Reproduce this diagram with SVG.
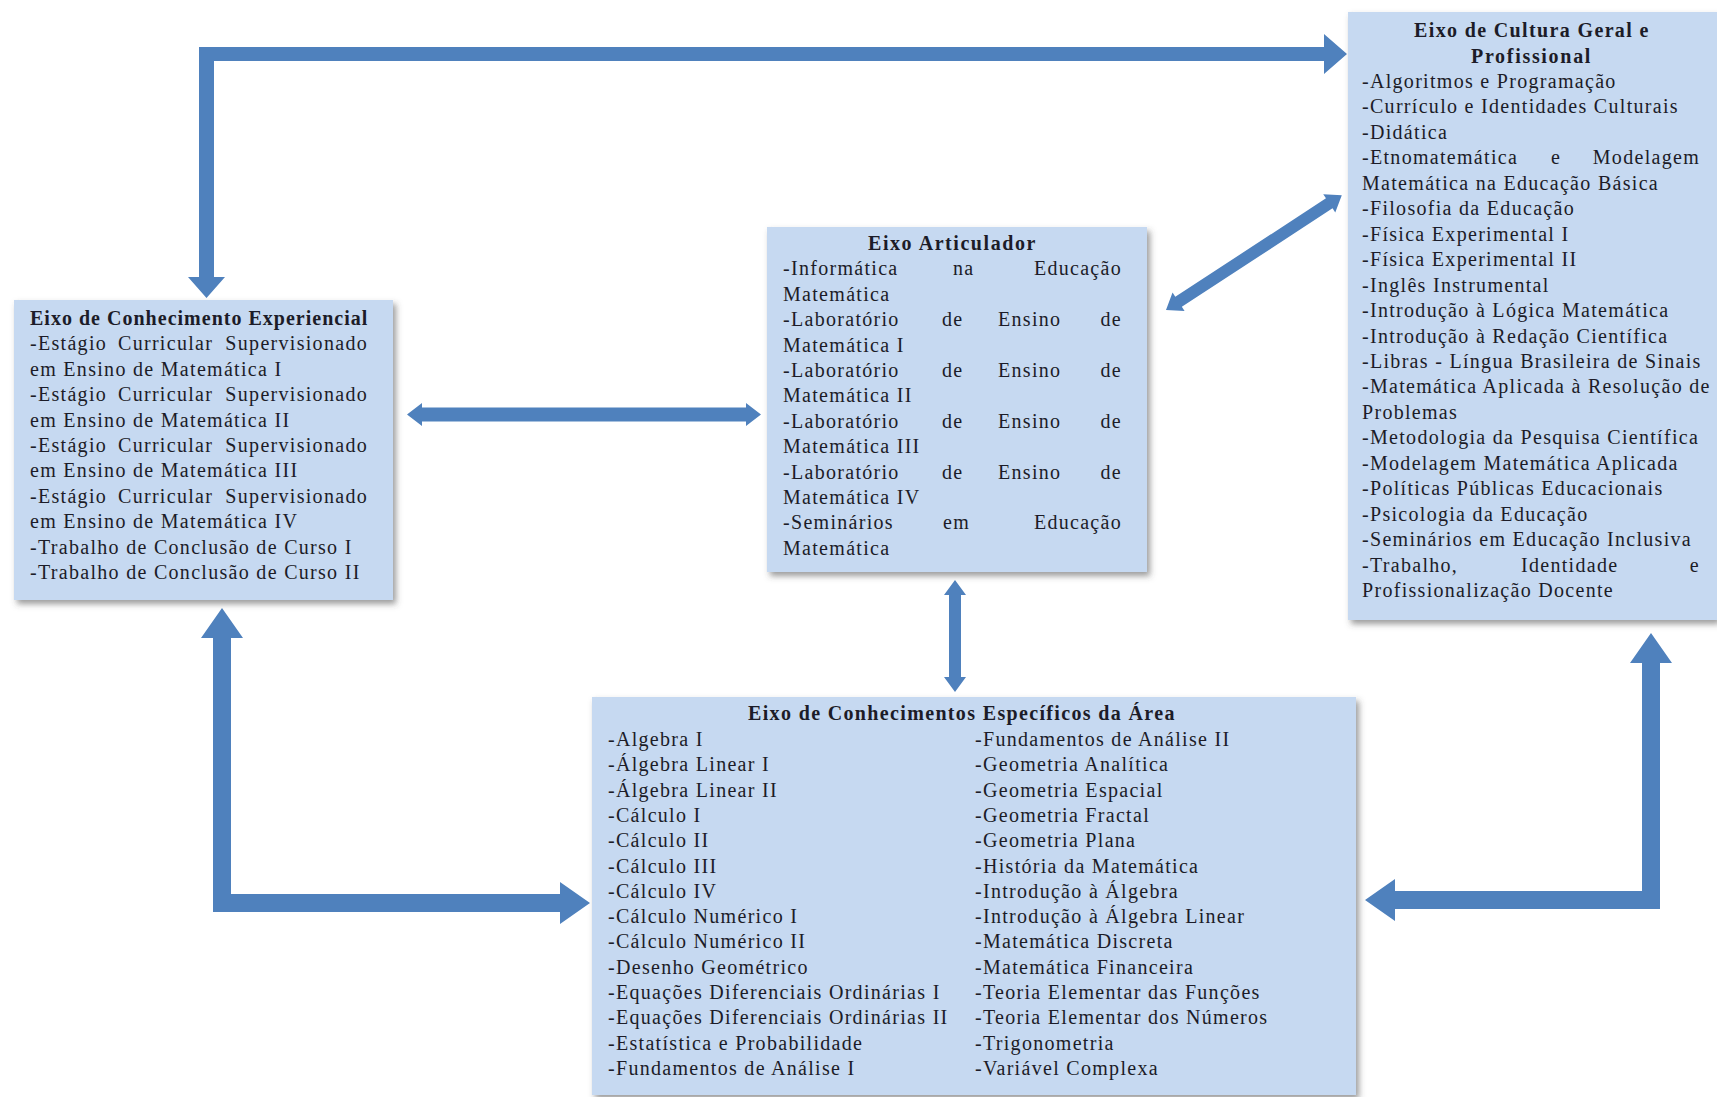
<svg xmlns="http://www.w3.org/2000/svg" width="1717" height="1097" viewBox="0 0 1717 1097">
<defs>
<style>
.box{fill:#c6d9f1;filter:url(#sh)}
.t{font-family:"Liberation Serif","Times New Roman",serif;font-size:20px;fill:#1c1c28;letter-spacing:1.3px}
.b{font-weight:bold;letter-spacing:0.6px}
.e{text-anchor:end}
.arr{fill:#4f81bd}
</style>
<filter id="sh" x="-5%" y="-5%" width="115%" height="115%">
<feDropShadow dx="3" dy="4" stdDeviation="3" flood-color="#4a4a4a" flood-opacity="0.55"/>
</filter>
</defs>
<rect width="1717" height="1097" fill="#ffffff"/>

<g id="connectors">
<path class="arr" d="M199,47 L1324,47 L1324,34 L1347,54 L1324,74 L1324,61 L214,61 L214,277 L225,277 L206.5,298 L188,277 L199,277 Z"/>
<path class="arr" d="M407,414.5 L422,403 L422,407.5 L746,407.5 L746,403 L761,414.5 L746,426 L746,421.5 L422,421.5 L422,426 Z"/>
<path class="arr" transform="translate(1166,310) rotate(-33.16)" d="M0,0 L15,-11 L15,-6 L195,-6 L195,-11 L210,0 L195,11 L195,6 L15,6 L15,11 Z"/>
<path class="arr" d="M955,580 L966,595 L961,595 L961,677 L966,677 L955,692 L944,677 L949,677 L949,595 L944,595 Z"/>
<path class="arr" d="M222,608 L243,638 L231,638 L231,894 L560,894 L560,882 L590,903 L560,924 L560,912 L213,912 L213,638 L201,638 Z"/>
<path class="arr" d="M1651,633 L1672,663 L1660,663 L1660,909 L1395,909 L1395,921 L1365,900 L1395,879 L1395,891 L1642,891 L1642,663 L1630,663 Z"/>
</g>

<g id="node-experiencial">
<rect class="box" x="14" y="300" width="379" height="300"/>
<text class="t b" x="30" y="325" textLength="338" lengthAdjust="spacing">Eixo de Conhecimento Experiencial</text>
<text class="t" y="350.4"><tspan x="30">-Estágio</tspan><tspan x="118">Curricular</tspan></text>
<text class="t e" x="368" y="350.4">Supervisionado</text>
<text class="t" x="30" y="375.8">em Ensino de Matemática I</text>
<text class="t" y="401.2"><tspan x="30">-Estágio</tspan><tspan x="118">Curricular</tspan></text>
<text class="t e" x="368" y="401.2">Supervisionado</text>
<text class="t" x="30" y="426.6">em Ensino de Matemática II</text>
<text class="t" y="452"><tspan x="30">-Estágio</tspan><tspan x="118">Curricular</tspan></text>
<text class="t e" x="368" y="452">Supervisionado</text>
<text class="t" x="30" y="477.4">em Ensino de Matemática III</text>
<text class="t" y="502.8"><tspan x="30">-Estágio</tspan><tspan x="118">Curricular</tspan></text>
<text class="t e" x="368" y="502.8">Supervisionado</text>
<text class="t" x="30" y="528.2">em Ensino de Matemática IV</text>
<text class="t" x="30" y="553.6">-Trabalho de Conclusão de Curso I</text>
<text class="t" x="30" y="579">-Trabalho de Conclusão de Curso II</text>
</g>

<g id="node-articulador">
<rect class="box" x="767" y="227" width="380" height="345"/>
<text class="t b" x="868" y="250" textLength="168" lengthAdjust="spacing">Eixo Articulador</text>
<text class="t" y="275.4"><tspan x="783">-Informática</tspan><tspan x="953">na</tspan></text>
<text class="t e" x="1122" y="275.4">Educação</text>
<text class="t" x="783" y="300.8">Matemática</text>
<text class="t" y="326.2"><tspan x="783">-Laboratório</tspan><tspan x="942">de</tspan><tspan x="998">Ensino</tspan></text>
<text class="t e" x="1122" y="326.2">de</text>
<text class="t" x="783" y="351.6">Matemática I</text>
<text class="t" y="377"><tspan x="783">-Laboratório</tspan><tspan x="942">de</tspan><tspan x="998">Ensino</tspan></text>
<text class="t e" x="1122" y="377">de</text>
<text class="t" x="783" y="402.4">Matemática II</text>
<text class="t" y="427.8"><tspan x="783">-Laboratório</tspan><tspan x="942">de</tspan><tspan x="998">Ensino</tspan></text>
<text class="t e" x="1122" y="427.8">de</text>
<text class="t" x="783" y="453.2">Matemática III</text>
<text class="t" y="478.6"><tspan x="783">-Laboratório</tspan><tspan x="942">de</tspan><tspan x="998">Ensino</tspan></text>
<text class="t e" x="1122" y="478.6">de</text>
<text class="t" x="783" y="504">Matemática IV</text>
<text class="t" y="529.4"><tspan x="783">-Seminários</tspan><tspan x="943">em</tspan></text>
<text class="t e" x="1122" y="529.4">Educação</text>
<text class="t" x="783" y="554.8">Matemática</text>
</g>

<g id="node-cultura">
<rect class="box" x="1348" y="12" width="369" height="608"/>
<text class="t b" x="1414" y="37" textLength="235" lengthAdjust="spacing">Eixo de Cultura Geral e</text>
<text class="t b" x="1471" y="62.5" textLength="120" lengthAdjust="spacing">Profissional</text>
<text class="t" x="1362" y="87.9">-Algoritmos e Programação</text>
<text class="t" x="1362" y="113.4">-Currículo e Identidades Culturais</text>
<text class="t" x="1362" y="138.8">-Didática</text>
<text class="t" y="164.3"><tspan x="1362">-Etnomatemática</tspan><tspan x="1551">e</tspan></text>
<text class="t e" x="1700" y="164.3">Modelagem</text>
<text class="t" x="1362" y="189.8">Matemática na Educação Básica</text>
<text class="t" x="1362" y="215.2">-Filosofia da Educação</text>
<text class="t" x="1362" y="240.7">-Física Experimental I</text>
<text class="t" x="1362" y="266.1">-Física Experimental II</text>
<text class="t" x="1362" y="291.6">-Inglês Instrumental</text>
<text class="t" x="1362" y="317">-Introdução à Lógica Matemática</text>
<text class="t" x="1362" y="342.5">-Introdução à Redação Científica</text>
<text class="t" x="1362" y="368">-Libras - Língua Brasileira de Sinais</text>
<text class="t" x="1362" y="393.4">-Matemática Aplicada à Resolução de</text>
<text class="t" x="1362" y="418.9">Problemas</text>
<text class="t" x="1362" y="444.3">-Metodologia da Pesquisa Científica</text>
<text class="t" x="1362" y="469.8">-Modelagem Matemática Aplicada</text>
<text class="t" x="1362" y="495.2">-Políticas Públicas Educacionais</text>
<text class="t" x="1362" y="520.7">-Psicologia da Educação</text>
<text class="t" x="1362" y="546.2">-Seminários em Educação Inclusiva</text>
<text class="t" y="571.6"><tspan x="1362">-Trabalho,</tspan><tspan x="1521">Identidade</tspan></text>
<text class="t e" x="1700" y="571.6">e</text>
<text class="t" x="1362" y="597">Profissionalização Docente</text>
</g>

<g id="node-especificos">
<rect class="box" x="592" y="697" width="764" height="398"/>
<text class="t b" x="748" y="720" textLength="427" lengthAdjust="spacing">Eixo de Conhecimentos Específicos da Área</text>
<text class="t" x="608" y="746">-Algebra I</text>
<text class="t" x="608" y="771.3">-Álgebra Linear I</text>
<text class="t" x="608" y="796.6">-Álgebra Linear II</text>
<text class="t" x="608" y="821.9">-Cálculo I</text>
<text class="t" x="608" y="847.2">-Cálculo II</text>
<text class="t" x="608" y="872.5">-Cálculo III</text>
<text class="t" x="608" y="897.8">-Cálculo IV</text>
<text class="t" x="608" y="923.1">-Cálculo Numérico I</text>
<text class="t" x="608" y="948.4">-Cálculo Numérico II</text>
<text class="t" x="608" y="973.7">-Desenho Geométrico</text>
<text class="t" x="608" y="999">-Equações Diferenciais Ordinárias I</text>
<text class="t" x="608" y="1024.3">-Equações Diferenciais Ordinárias II</text>
<text class="t" x="608" y="1049.6">-Estatística e Probabilidade</text>
<text class="t" x="608" y="1074.9">-Fundamentos de Análise I</text>
<text class="t" x="975" y="746">-Fundamentos de Análise II</text>
<text class="t" x="975" y="771.3">-Geometria Analítica</text>
<text class="t" x="975" y="796.6">-Geometria Espacial</text>
<text class="t" x="975" y="821.9">-Geometria Fractal</text>
<text class="t" x="975" y="847.2">-Geometria Plana</text>
<text class="t" x="975" y="872.5">-História da Matemática</text>
<text class="t" x="975" y="897.8">-Introdução à Álgebra</text>
<text class="t" x="975" y="923.1">-Introdução à Álgebra Linear</text>
<text class="t" x="975" y="948.4">-Matemática Discreta</text>
<text class="t" x="975" y="973.7">-Matemática Financeira</text>
<text class="t" x="975" y="999">-Teoria Elementar das Funções</text>
<text class="t" x="975" y="1024.3">-Teoria Elementar dos Números</text>
<text class="t" x="975" y="1049.6">-Trigonometria</text>
<text class="t" x="975" y="1074.9">-Variável Complexa</text>
</g>
</svg>
